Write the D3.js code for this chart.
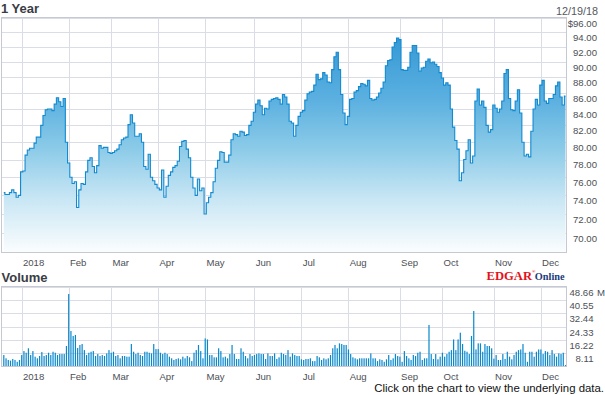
<!DOCTYPE html>
<html>
<head>
<meta charset="utf-8">
<script src="https://cdn.jsdelivr.net/npm/d3@7"></script>
<style>
  html, body { margin: 0; padding: 0; background: #fff; }
  svg { display: block; }
  text.sans { font-family: "Liberation Sans", Arial, sans-serif; }
  text.logo { font-family: "Liberation Serif", "Times New Roman", serif; font-weight: bold; }
</style>
</head>
<body>
<svg id="chart" width="605" height="395"></svg>
<script>
// ---------------- DATA ----------------
const closePrices = [
  74.3,74.1,74.1,74.3,74.6,74.3,73.8,74.0,76.6,76.7,
  78.5,79.1,79.3,79.3,79.9,80.6,80.6,82.0,83.2,83.9,
  84.0,84.0,83.8,84.6,85.4,84.9,84.3,85.3,80.0,77.6,
  76.0,75.3,75.5,72.7,74.6,75.3,75.2,76.6,77.9,78.2,
  77.2,76.5,77.3,79.6,79.3,79.4,79.4,78.8,78.7,78.8,
  79.0,79.2,79.7,80.3,80.5,80.6,82.1,83.3,82.3,80.7,
  80.7,81.0,80.0,77.2,76.9,78.6,76.0,75.6,75.2,74.8,
  74.6,76.8,73.8,75.0,76.2,76.6,77.1,77.3,77.8,79.5,
  80.1,80.2,79.2,78.2,76.0,74.8,74.0,75.8,74.5,74.8,
  72.0,73.2,73.8,74.3,75.5,77.0,77.9,78.9,78.8,77.7,
  77.7,78.5,80.3,81.0,80.9,80.7,81.3,81.2,80.8,80.9,
  82.0,82.5,83.6,84.6,85.1,84.4,83.3,84.1,84.0,85.0,
  85.2,85.3,85.4,85.2,84.6,85.8,85.5,84.6,82.5,82.3,
  80.7,82.0,83.1,83.6,83.8,85.1,85.9,86.1,86.2,87.0,
  88.4,87.7,87.8,88.6,88.3,87.4,87.3,89.0,90.7,91.3,
  89.0,85.8,83.5,82.1,83.1,85.2,85.3,86.1,86.3,86.8,
  87.2,87.1,86.9,87.6,85.3,85.1,85.2,85.5,86.0,86.6,
  87.4,89.5,90.2,90.3,92.0,92.6,93.2,93.0,89.0,88.9,
  88.9,89.3,91.3,92.2,92.2,91.2,88.8,89.2,89.3,90.1,
  90.4,89.9,90.0,89.7,89.4,88.6,87.9,87.0,87.3,87.0,
  84.0,81.8,80.2,79.2,75.6,76.5,78.0,79.0,80.3,77.6,
  78.4,85.0,86.5,84.5,85.0,84.2,82.0,81.2,81.5,84.5,
  84.1,83.6,84.0,85.0,88.5,89.0,85.3,83.9,83.8,85.0,
  86.4,83.5,80.0,78.4,78.6,78.3,81.3,84.0,85.2,84.5,
  87.0,87.6,85.0,84.7,85.3,85.3,85.8,86.9,87.4,85.5,
  84.5,85.6
];

// volume in millions of shares
const volumes = [
  7.1,5.1,4.1,3.7,4.7,4.1,3.0,4.1,7.1,9.5,
  8.5,11.2,7.1,9.5,6.1,5.1,6.5,8.9,6.5,7.1,
  8.5,7.1,9.1,8.5,7.1,7.7,7.7,7.7,12.6,44.2,
  21.7,18.7,19.3,11.4,13.2,13.8,10.1,7.1,8.5,9.1,
  9.5,6.5,7.7,6.5,7.1,6.5,8.1,10.1,8.5,9.1,
  6.5,7.1,5.1,6.5,6.5,6.1,6.1,13.8,9.1,7.7,
  8.5,7.1,6.5,9.1,9.1,8.5,8.1,13.8,10.7,10.7,
  8.5,7.7,8.5,7.7,6.1,5.1,4.1,4.7,5.1,4.5,
  6.1,5.1,6.5,5.7,3.4,8.5,10.1,13.2,9.5,5.1,
  17.2,16.6,7.1,7.1,5.7,5.7,11.2,9.5,5.7,6.1,
  5.1,7.7,13.2,7.7,4.7,4.7,11.2,9.1,6.5,5.1,
  7.7,6.5,7.1,7.7,8.1,7.7,7.7,4.7,8.1,6.5,
  6.5,8.1,4.7,5.7,8.5,7.7,7.1,10.1,6.1,8.1,
  7.1,6.5,6.5,
  4.5,4.1,4.7,4.7,5.1,3.4,3.4,6.5,5.7,4.1,
  5.1,4.5,5.1,7.1,11.2,13.2,11.2,14.2,13.8,13.2,
  13.2,10.5,7.7,5.7,5.1,4.5,5.1,5.1,5.1,5.1,
  5.1,8.1,5.1,5.1,3.4,4.5,4.1,3.0,4.5,7.1,
  4.1,5.1,7.7,6.5,6.1,3.0,9.5,6.5,5.1,4.1,
  7.1,6.5,8.5,9.1,4.1,5.1,5.1,25.4,7.7,4.7,
  7.7,4.5,6.1,8.5,6.1,7.7,9.1,10.1,16.6,
  10.1,16.6,20.7,13.8,9.7,9.1,7.7,18.7,33.9,10.5,
  14.2,14.2,9.1,13.8,12.6,12.6,11.2,4.9,7.1,4.1,
  4.1,7.7,4.7,9.1,6.1,4.5,7.1,9.1,10.1,10.5,
  13.8,8.5,3.0,9.1,9.1,6.1,9.1,10.5,10.5,
  7.7,9.5,9.1,7.1,10.1,7.7,6.1,8.1,7.7,8.5,
  1.0
];

const monthLabels = ["2018","Feb","Mar","Apr","May","Jun","Jul","Aug","Sep","Oct","Nov","Dec"];
const monthStartIndex = [8,29,48,69,90,112,133,154,177,196,219,240];   // trading-day index of first session
const priceTicks = [96,94,92,90,88,86,84,82,80,78,76,74,72,70];
const volumeTicks = [48.66,40.55,32.44,24.33,16.22,8.11];
const titleText = "1 Year";
const dateText = "12/19/18";
const volumeTitle = "Volume";
const footerText = "Click on the chart to view the underlying data.";

// ---------------- LAYOUT ----------------
const svg = d3.select("#chart");
const L = 1.5, R = 566.5;
const pTop = 17.5, pBot = 252.5;
const vTop = 286.5, vBot = 366.5;

const x = d3.scaleLinear().domain([0, closePrices.length - 1]).range([3.8, 565.5]);
const y = d3.scaleLog().domain([68, 96]).range([253, 18]);
const yv = d3.scaleLinear().domain([0, 48.66]).range([366.7, 286.7]);

const gridColor = "#dadde5";
const borderColor = "#c6c9d1";
const labelColor = "#4d4f55";

// gradient
const defs = svg.append("defs");
const grad = defs.append("linearGradient").attr("id","fillGrad")
  .attr("gradientUnits","userSpaceOnUse").attr("x1",0).attr("x2",0).attr("y1",pTop).attr("y2",pBot);
[[0,"#2a92d1"],[0.35,"#5bb0e0"],[0.56,"#8ccbe8"],[0.77,"#c8e6f4"],[1,"#fbfdfe"]].forEach(([o,c]) =>
  grad.append("stop").attr("offset",o).attr("stop-color",c));

// ---------- price panel ----------
const gp = svg.append("g");
gp.selectAll("line.hg").data(priceTicks).join("line")
  .attr("x1",L).attr("x2",R)
  .attr("y1",d=>Math.round(y(d))+0.5).attr("y2",d=>Math.round(y(d))+0.5)
  .attr("stroke",gridColor).attr("stroke-width",1);
gp.selectAll("line.vg").data(monthStartIndex).join("line")
  .attr("x1",d=>Math.round(x(d))+0.5).attr("x2",d=>Math.round(x(d))+0.5)
  .attr("y1",pTop).attr("y2",pBot)
  .attr("stroke",gridColor).attr("stroke-width",1);

const area = d3.area().x((d,i)=>x(i)).y0(pBot).y1(d=>y(d)).curve(d3.curveStep);
const line = d3.line().x((d,i)=>x(i)).y(d=>y(d)).curve(d3.curveStep);
gp.append("path").datum(closePrices).attr("d",area).attr("fill","url(#fillGrad)");
gp.append("path").datum(closePrices).attr("d",line).attr("fill","none")
  .attr("stroke","#128ad0").attr("stroke-width",1.1);

gp.append("rect").attr("x",L).attr("y",pTop).attr("width",R-L).attr("height",pBot-pTop)
  .attr("fill","none").attr("stroke",borderColor).attr("stroke-width",1);

gp.selectAll("text.yl").data(priceTicks).join("text").attr("class","sans")
  .attr("x",597).attr("y",d=>y(d)+8.6).attr("text-anchor","end")
  .attr("font-size","9.6px").attr("fill",labelColor)
  .text((d,i)=> (i===0?"$":"") + d3.format(".2f")(d));

gp.selectAll("text.xl").data(monthLabels).join("text").attr("class","sans")
  .attr("x",(d,i)=>x(monthStartIndex[i])+1.2).attr("y",265.5)
  .attr("font-size","9.6px").attr("fill",labelColor).text(d=>d);

svg.append("text").attr("class","sans").attr("x",1).attr("y",13.3).attr("font-size","13px").attr("font-weight","bold")
  .attr("fill","#3a3d44").text(titleText);
svg.append("text").attr("class","sans").attr("x",598).attr("y",15).attr("text-anchor","end").attr("font-size","10.8px")
  .attr("fill","#555860").text(dateText);

// ---------- volume panel ----------
const gv = svg.append("g");
gv.selectAll("line.hg").data(volumeTicks).join("line")
  .attr("x1",L).attr("x2",R)
  .attr("y1",d=>Math.round(yv(d))+0.5).attr("y2",d=>Math.round(yv(d))+0.5)
  .attr("stroke",gridColor);
gv.selectAll("line.vg").data(monthStartIndex).join("line")
  .attr("x1",d=>Math.round(x(d))+0.5).attr("x2",d=>Math.round(x(d))+0.5)
  .attr("y1",vTop).attr("y2",vBot)
  .attr("stroke",gridColor);
gv.selectAll("rect.bar").data(volumes).join("rect")
  .attr("x",(d,i)=>x(i)-0.6).attr("width",1.2)
  .attr("y",d=>yv(d)).attr("height",d=>yv(0)-yv(d))
  .attr("fill","#0a88cc");
gv.append("rect").attr("x",L).attr("y",vTop).attr("width",R-L).attr("height",vBot-vTop)
  .attr("fill","none").attr("stroke",borderColor);

gv.selectAll("text.vl").data(volumeTicks).join("text").attr("class","sans")
  .attr("x",593.5).attr("y",d=>yv(d)+9).attr("text-anchor","end")
  .attr("font-size","9.6px").attr("fill",labelColor)
  .text(d=>d3.format(".2f")(d));
gv.append("text").attr("class","sans").attr("x",597).attr("y",yv(volumeTicks[0])+9)
  .attr("font-size","9.6px").attr("fill",labelColor).text("M");

gv.selectAll("text.xl").data(monthLabels).join("text").attr("class","sans")
  .attr("x",(d,i)=>x(monthStartIndex[i])+1.2).attr("y",380)
  .attr("font-size","9.6px").attr("fill",labelColor).text(d=>d);

svg.append("text").attr("class","sans").attr("x",1.5).attr("y",282).attr("font-size","13px").attr("font-weight","bold")
  .attr("fill","#3a3d44").text(volumeTitle);

// EDGAR Online logo
const logo = svg.append("text").attr("class","logo").attr("x",486.5).attr("y",279.5);
logo.append("tspan").attr("fill","#e3121b").attr("font-size","12.6px").text("EDGAR");
logo.append("tspan").attr("fill","#e3121b").attr("font-size","4.5px").attr("dy",-6.5).text("®");
logo.append("tspan").attr("fill","#1b3c7c").attr("font-size","10.3px").attr("dy",6.5).attr("dx",-0.5).text("Online");

// footer
svg.append("text").attr("class","sans").attr("x",604).attr("y",392).attr("text-anchor","end")
  .attr("font-size","11.4px").attr("fill","#111").text(footerText);
</script>
</body>
</html>
